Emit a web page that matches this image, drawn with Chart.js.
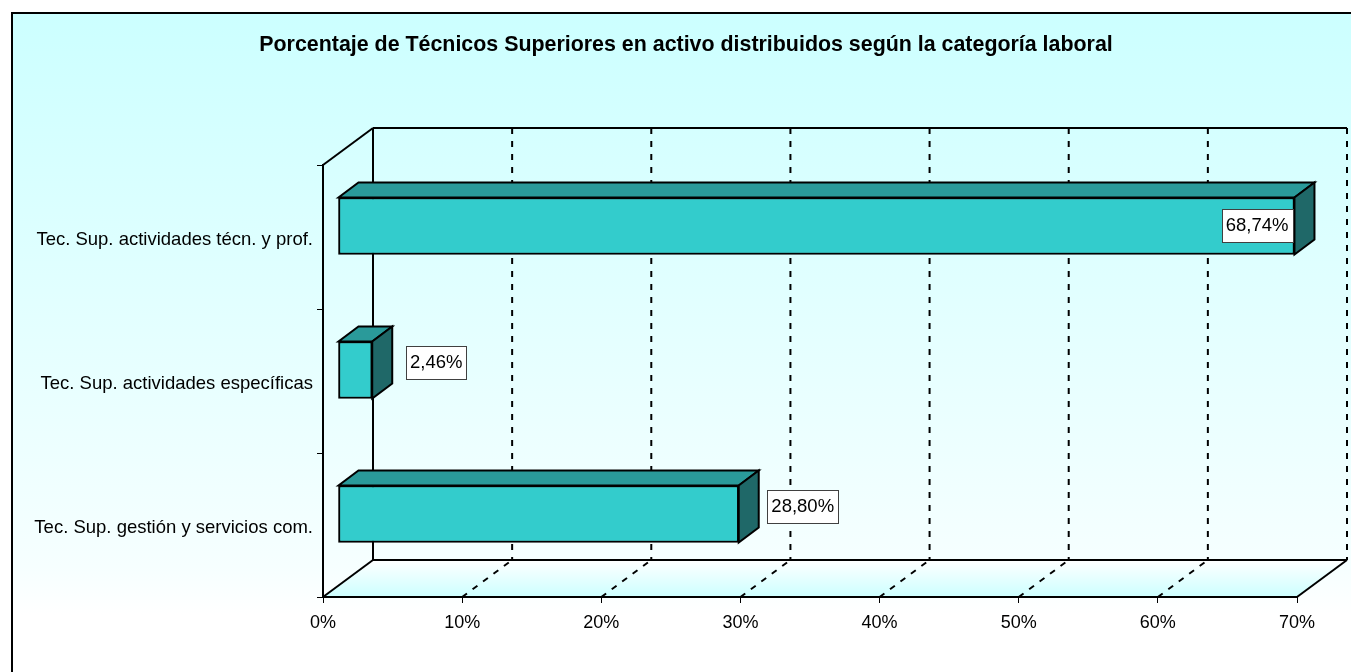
<!DOCTYPE html>
<html>
<head>
<meta charset="utf-8">
<script src="https://cdn.jsdelivr.net/npm/chart.js@4/dist/chart.umd.min.js"></script>
<style>
html,body{margin:0;padding:0;background:#fff;}
canvas{display:block;}
</style>
</head>
<body>
<canvas id="c" width="1351" height="672"></canvas>
<script>
// ---- data ----
const chartTitle = 'Porcentaje de Técnicos Superiores en activo distribuidos según la categoría laboral';
const categories = [
  'Tec. Sup. actividades técn. y prof.',
  'Tec. Sup. actividades específicas',
  'Tec. Sup. gestión y servicios com.'
];
const values = [68.74, 2.46, 28.80];
const valueLabels = ['68,74%', '2,46%', '28,80%'];
const axisMin = 0, axisMax = 70, axisStep = 10;

// ---- style ----
const FONT = '"Liberation Sans", Arial, sans-serif';
const DX = 50, DY = -37;          // depth of the 3D box
const BX = 15, BY = -11;          // bar front offset inside the depth
const BDX = 20, BDY = -15;        // bar depth
const FRONT = '#33CCCC', TOP = '#2A9A9A', SIDE = '#1F6868';

function poly(ctx, pts, fill, stroke, lw) {
  ctx.beginPath();
  ctx.moveTo(pts[0][0], pts[0][1]);
  for (let i = 1; i < pts.length; i++) ctx.lineTo(pts[i][0], pts[i][1]);
  ctx.closePath();
  if (fill) { ctx.fillStyle = fill; ctx.fill(); }
  if (stroke) { ctx.strokeStyle = stroke; ctx.lineWidth = lw || 2; ctx.stroke(); }
}
function line(ctx, x1, y1, x2, y2, dash) {
  ctx.beginPath();
  ctx.setLineDash(dash || []);
  ctx.moveTo(x1, y1); ctx.lineTo(x2, y2);
  ctx.stroke();
  ctx.setLineDash([]);
}

const threeD = {
  id: 'threeD',
  beforeDraw(chart) {
    const ctx = chart.ctx, ca = chart.chartArea, xs = chart.scales.x;
    ctx.save();
    ctx.fillStyle = '#fff';
    ctx.fillRect(0, 0, chart.width, chart.height);
    const g = ctx.createLinearGradient(0, 13, 0, 615);
    g.addColorStop(0, '#CCFFFF');
    g.addColorStop(0.92, '#F6FFFF');
    g.addColorStop(1, '#FFFFFF');
    ctx.fillStyle = g;
    ctx.fillRect(12, 13, 1400, 700);
    ctx.lineWidth = 2; ctx.strokeStyle = '#000';
    ctx.strokeRect(12, 13, 1400, 700);

    // title
    ctx.fillStyle = '#000';
    ctx.font = 'bold 21.4px ' + FONT;
    ctx.textAlign = 'center';
    ctx.textBaseline = 'middle';
    ctx.fillText(chartTitle, 686, 45);

    const x0 = xs.getPixelForValue(axisMin), x1 = xs.getPixelForValue(axisMax);
    const top = ca.top, bot = ca.bottom;
    // floor
    const fg = ctx.createLinearGradient(0, bot + DY, 0, bot);
    fg.addColorStop(0, '#FFFFFF');
    fg.addColorStop(1, '#CCFFFF');
    poly(ctx, [[x0, bot], [x1, bot], [x1 + DX, bot + DY], [x0 + DX, bot + DY]], fg, null);
    ctx.strokeStyle = '#000';
    ctx.lineWidth = 2;
    // gridlines
    for (let v = axisMin + axisStep; v <= axisMax; v += axisStep) {
      const px = xs.getPixelForValue(v);
      line(ctx, px + DX, top + DY, px + DX, bot + DY, [6, 7]);
      if (v < axisMax) line(ctx, px, bot, px + DX, bot + DY, [6, 7]);
    }
    // box edges
    line(ctx, x0, top, x0 + DX, top + DY);
    line(ctx, x0 + DX, top + DY, x1 + DX, top + DY);
    line(ctx, x0 + DX, top + DY, x0 + DX, bot + DY);
    line(ctx, x0, bot, x0 + DX, bot + DY);
    line(ctx, x0 + DX, bot + DY, x1 + DX, bot + DY);
    line(ctx, x1, bot, x1 + DX, bot + DY);
    ctx.restore();
  },
  beforeDatasetsDraw(chart) {
    chart.ctx.save();
    chart.ctx.translate(BX, BY);
  },
  afterDatasetsDraw(chart) {
    const ctx = chart.ctx, ca = chart.chartArea;
    ctx.restore();
    ctx.save();
    ctx.lineJoin = 'miter';
    const meta = chart.getDatasetMeta(0);
    meta.data.forEach((el, i) => {
      const p = el.getProps(['x', 'y', 'base', 'height'], true);
      const L = p.base + BX, R = p.x + BX;
      const T = p.y - p.height / 2 + BY, B = p.y + p.height / 2 + BY;
      poly(ctx, [[L, T], [R, T], [R + BDX, T + BDY], [L + BDX, T + BDY]], TOP, '#000', 2);
      poly(ctx, [[R, T], [R + BDX, T + BDY], [R + BDX, B + BDY], [R, B]], SIDE, '#000', 2);
    });
    // value labels
    ctx.font = '18.5px ' + FONT;
    ctx.textBaseline = 'middle';
    ctx.textAlign = 'center';
    meta.data.forEach((el, i) => {
      const p = el.getProps(['x', 'y', 'height'], true);
      const txt = valueLabels[i];
      const tw = ctx.measureText(txt).width;
      const bw = tw + 8, bh = 33;
      const R = p.x + BX;
      let cx = R + BDX + 44, cy = p.y + BY - 8;
      if (cx + bw / 2 > ca.right + DX - 10) { cx = R - 2 - bw / 2; cy = p.y + BY - 1; }
      ctx.fillStyle = '#fff';
      ctx.fillRect(Math.round(cx - bw / 2) + 0.5, Math.round(cy - bh / 2) + 0.5, Math.round(bw), bh);
      ctx.strokeStyle = '#404040'; ctx.lineWidth = 1;
      ctx.strokeRect(Math.round(cx - bw / 2) + 0.5, Math.round(cy - bh / 2) + 0.5, Math.round(bw), bh);
      ctx.fillStyle = '#000';
      ctx.fillText(txt, cx, cy + 1);
    });
    ctx.restore();
  }
};

new Chart(document.getElementById('c'), {
  type: 'bar',
  data: {
    labels: categories,
    datasets: [{
      data: values,
      backgroundColor: FRONT,
      borderColor: '#000',
      borderWidth: 2,
      borderSkipped: false,
      barThickness: 57,
      clip: false
    }]
  },
  options: {
    indexAxis: 'y',
    responsive: false,
    devicePixelRatio: 1,
    animation: false,
    events: [],
    layout: { padding: { left: 0, right: 54, top: 165, bottom: 0 } },
    plugins: {
      legend: { display: false },
      tooltip: { enabled: false },
      title: { display: false }
    },
    scales: {
      x: {
        min: axisMin, max: axisMax,
        ticks: {
          stepSize: axisStep,
          color: '#000',
          font: { family: FONT, size: 18 },
          padding: 9,
          maxRotation: 0,
          callback: v => v + '%'
        },
        grid: { drawOnChartArea: false, tickLength: 6, color: '#000', lineWidth: 1 },
        border: { display: true, color: '#000', width: 2 },
        afterFit: s => { s.height = 75; }
      },
      y: {
        ticks: {
          color: '#000',
          font: { family: FONT, size: 18.5 },
          padding: 4,
          labelOffset: 3
        },
        grid: { offset: true, drawOnChartArea: false, tickLength: 6, color: '#000', lineWidth: 1 },
        border: { display: true, color: '#000', width: 2 },
        afterFit: s => { s.width = 323; }
      }
    }
  },
  plugins: [threeD]
});
</script>
</body>
</html>
